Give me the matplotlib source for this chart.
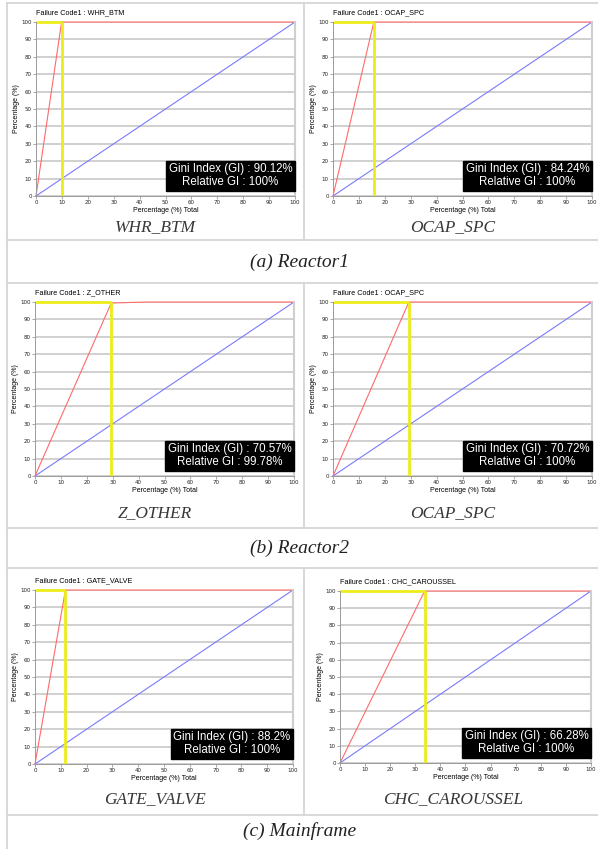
import matplotlib
matplotlib.use('Agg')
import matplotlib.pyplot as plt
from matplotlib.lines import Line2D

# ── data ────────────────────────────────────────────────────────────────
codes = ['WHR_BTM', 'OCAP_SPC', 'Z_OTHER', 'OCAP_SPC', 'GATE_VALVE', 'CHC_CAROUSSEL']
gini = [90.12, 84.24, 70.57, 70.72, 88.2, 66.28]
rel_gi = [100, 100, 99.78, 100, 100, 100]
groups = ['(a) Reactor1', '(b) Reactor2', '(c) Mainframe']

# cumulative failure curves (red) and the cut-off (yellow)
curve_x = [[0, 9.88, 100], [0, 15.76, 100], [0, 29.43, 43, 100],
           [0, 29.28, 100], [0, 11.8, 100], [0, 33.72, 100]]
curve_y = [[0, 100, 100], [0, 100, 100], [0, 99.4, 100, 100],
           [0, 100, 100], [0, 100, 100], [0, 100, 100]]
cut_x = [9.88, 15.76, 29.43, 29.28, 11.8, 33.72]
ticks = list(range(0, 101, 10))

# ── layout (pixels) ─────────────────────────────────────────────────────
W, H = 598, 849
fig = plt.figure(figsize=(W / 100, H / 100), dpi=100)

# axes boxes: left, top, right, bottom
boxes = [(36, 22, 295, 196), (333, 22, 592, 196),
         (35, 302, 294, 476), (333, 302, 592, 476),
         (35, 590, 293, 764), (340, 591, 591, 763)]
cap_y = [227, 227, 513, 513, 799, 799]
cap_x = [155, 453, 155, 453, 155, 453]
group_y = [262, 548, 831]

sans = 'Liberation Sans'
serif = 'Liberation Serif'
grid_c = '#c4c4c4'
frame_c = '#d6d6d6'


def px_line(x0, y0, x1, y1):
    fig.add_artist(Line2D([x0 / W, x1 / W], [1 - y0 / H, 1 - y1 / H],
                          color=frame_c, lw=1.3, transform=fig.transFigure))


# table frame
px_line(7, 3, W, 3)
px_line(7, 3, 7, H)
for y in (240, 283, 528, 568, 815):
    px_line(7, y, W, y)
for y0, y1 in ((3, 240), (283, 528), (568, 815)):
    px_line(304, y0, 304, y1)

for i, (l, t, r, b) in enumerate(boxes):
    ax = fig.add_axes([l / W, 1 - b / H, (r - l) / W, (b - t) / H])
    ax.set_xlim(0, 100)
    ax.set_ylim(0, 100)
    ax.set_xticks(ticks)
    ax.set_yticks(ticks)
    ax.tick_params(labelsize=4, length=2, width=0.6, color='#999999',
                   pad=1, labelcolor='#222222')
    ax.grid(axis='y', color=grid_c, lw=1.1)
    ax.set_axisbelow(True)
    for side in ('left', 'bottom'):
        ax.spines[side].set_color('#9a9a9a')
        ax.spines[side].set_linewidth(0.7)
    ax.spines['right'].set_color('#cfcfcf')
    ax.spines['right'].set_linewidth(1.5)
    ax.spines['top'].set_visible(False)

    ax.plot([0, 100], [0, 100], color='#7a7aff', lw=0.8, clip_on=False)
    ax.plot(curve_x[i], curve_y[i], color='#ff6a6a', lw=0.8, clip_on=False)
    ax.plot([0, cut_x[i]], [100, 100], color='#ecec1a', lw=2,
            clip_on=False, solid_capstyle='butt')
    ax.plot([cut_x[i], cut_x[i]], [0, 100], color='#ecec1a', lw=2,
            clip_on=False, solid_capstyle='butt')

    ax.set_xlabel('Percentage (%) Total', fontsize=5, family=sans, labelpad=1)
    ax.set_ylabel('Percentage (%)', fontsize=5, family=sans, labelpad=1)
    ax.text(0, 1.035, 'Failure Code1 : ' + codes[i], transform=ax.transAxes,
            fontsize=5.2, family=sans, ha='left', va='bottom')

    rel = f'{rel_gi[i]:g}%'
    ax.text(0.99, 0.045, f'Gini Index (GI) : {gini[i]:g}%\nRelative GI : {rel}',
            transform=ax.transAxes, ha='right', va='bottom',
            multialignment='center', fontsize=8.3, family=sans,
            color='white', linespacing=1.1, zorder=5,
            bbox=dict(boxstyle='square,pad=0.22', fc='black', ec='black'))

    fig.text(cap_x[i] / W, 1 - cap_y[i] / H, codes[i], fontsize=12.5,
             family=serif, style='italic', color='#383838',
             ha='center', va='center')

for g, y in zip(groups, group_y):
    fig.text(300 / W, 1 - y / H, g, fontsize=14, family=serif,
             style='italic', color='#222222', ha='center', va='center')

fig.savefig('out.png', dpi=100, facecolor='white')
